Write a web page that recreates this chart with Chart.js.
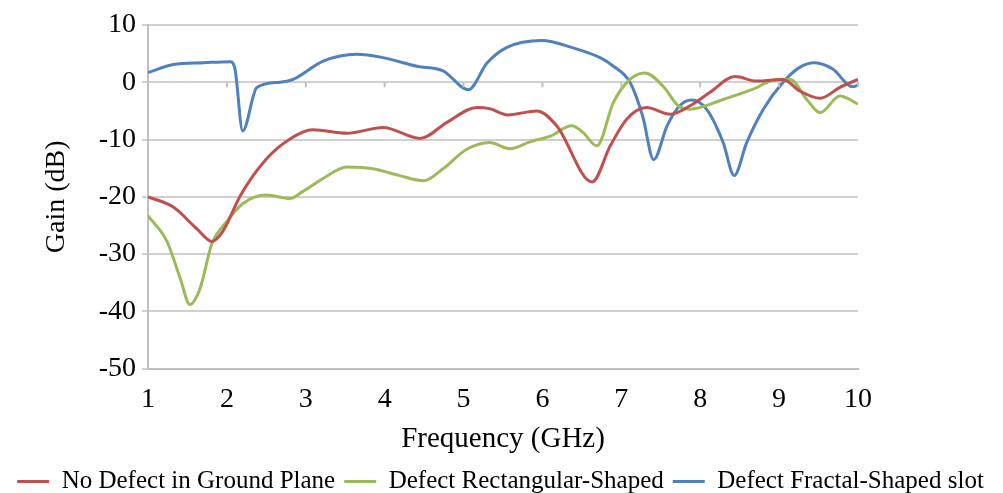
<!DOCTYPE html>
<html>
<head>
<meta charset="utf-8">
<script src="https://cdn.jsdelivr.net/npm/chart.js@4.4.0/dist/chart.umd.min.js"></script>
<style>
  html, body { margin: 0; padding: 0; background: #fff; }
  #wrap { width: 1003px; height: 493px; }
</style>
</head>
<body>
<div id="wrap"><canvas id="gainChart" width="1003" height="493"></canvas></div>
<script>
// Gain vs frequency
const seriesLabels = ['No Defect in Ground Plane', 'Defect Rectangular-Shaped', 'Defect Fractal-Shaped slot'];
const seriesColors = ['#C0504D', '#9BBB59', '#4F81BD'];

const noDefectFreq = [1, 1.32, 1.62, 1.81, 1.95, 2.17, 2.5, 2.8, 3.09, 3.52, 3.98, 4.45, 4.79, 5.17, 5.33, 5.56, 5.93, 6.18, 6.63, 6.86, 7.07, 7.32, 7.62, 7.87, 8.12, 8.44, 8.72, 9.05, 9.26, 9.52, 9.77, 10];
const noDefectGain = [-20, -21.8, -25.6, -27.8, -26, -19.8, -13.4, -9.9, -8.3, -8.9, -7.9, -9.8, -7, -4.4, -4.6, -5.7, -5, -7.6, -17.4, -11.1, -6.4, -4.4, -5.6, -4.1, -1.8, 1, 0.2, 0.5, -1.5, -2.8, -0.9, 0.5];

const rectFreq = [1, 1.24, 1.41, 1.53, 1.66, 1.81, 2, 2.2, 2.5, 2.8, 2.96, 3.22, 3.52, 3.85, 4.19, 4.49, 4.74, 5.04, 5.33, 5.59, 5.84, 6.1, 6.37, 6.51, 6.69, 6.9, 7.11, 7.3, 7.53, 7.72, 7.87, 8.29, 8.67, 8.97, 9.14, 9.35, 9.52, 9.77, 10];
const rectGain = [-23.3, -27.8, -34.3, -38.8, -36, -28.2, -24.3, -21.2, -19.7, -20.3, -19.1, -16.8, -14.8, -15.1, -16.3, -17.2, -15.1, -11.7, -10.5, -11.6, -10.4, -9.4, -7.6, -8.7, -11.1, -3.5, 0.5, 1.6, -0.7, -4.1, -4.7, -3, -1.2, 0.5, 0.5, -3, -5.3, -2.4, -3.8];

const fractalFreq = [1, 1.32, 1.7, 2.04, 2.1, 2.2, 2.38, 2.67, 2.84, 3.22, 3.65, 3.98, 4.41, 4.74, 5.06, 5.3, 5.55, 5.99, 6.39, 6.73, 6.9, 7.11, 7.27, 7.41, 7.58, 7.74, 7.89, 8.08, 8.29, 8.43, 8.59, 8.8, 9.05, 9.26, 9.45, 9.68, 9.93, 10];
const fractalGain = [1.7, 3.1, 3.4, 3.6, 2.5, -8.5, -0.9, 0, 0.5, 3.7, 4.9, 4.3, 2.8, 2, -1.3, 3.4, 6.1, 7.3, 6, 4.3, 2.8, 0, -5.9, -13.5, -7.6, -4.1, -3.1, -4.7, -10.5, -16.3, -10.5, -4.7, 0, 2.6, 3.4, 2.3, -0.8, -0.5];

const xTicks = [1, 2, 3, 4, 5, 6, 7, 8, 9, 10];
const yTicks = [-50, -40, -30, -20, -10, 0, 10];

const serif = '"Liberation Serif", "Times New Roman", serif';

function toPoints(xs, ys) {
    return xs.map((x, i) => ({ x: x, y: ys[i] }));
}

// Excel draws the category axis through 0 with short tick marks
const zeroAxisTicks = {
    id: 'zeroAxisTicks',
    afterDatasetsDraw(chart) {
        const { ctx, scales } = chart;
        const y0 = scales.y.getPixelForValue(0);
        ctx.save();
        ctx.strokeStyle = '#bfbfbf';
        ctx.lineWidth = 2;
        xTicks.forEach(v => {
            const px = scales.x.getPixelForValue(v);
            ctx.beginPath();
            ctx.moveTo(px, y0);
            ctx.lineTo(px, y0 + 5);
            ctx.stroke();
        });
        ctx.restore();
    }
};

// trim the extra space chart.js keeps under the legend row
const tightLegend = {
    id: 'tightLegend',
    afterInit(chart) {
        const legend = chart.legend;
        if (!legend) return;
        const origFit = legend.fit;
        legend.fit = function () {
            origFit.call(this);
            this.height = Math.max(0, this.height - 11);
        };
    }
};

const datasets = [
    toPoints(noDefectFreq, noDefectGain),
    toPoints(rectFreq, rectGain),
    toPoints(fractalFreq, fractalGain)
].map((pts, i) => ({
    label: seriesLabels[i],
    data: pts,
    borderColor: seriesColors[i],
    backgroundColor: seriesColors[i],
    borderWidth: 3,
    pointRadius: 0,
    cubicInterpolationMode: 'monotone',
    fill: false
}));

new Chart(document.getElementById('gainChart'), {
    type: 'line',
    data: { datasets },
    plugins: [zeroAxisTicks, tightLegend],
    options: {
        responsive: false,
        animation: false,
        layout: { padding: { top: 25, left: 0, right: 2, bottom: 0 } },
        plugins: {
            legend: {
                position: 'bottom',
                labels: {
                    usePointStyle: true,
                    pointStyle: 'line',
                    pointStyleWidth: 32,
                    boxHeight: 3,
                    padding: 9,
                    color: '#000',
                    font: { family: serif, size: 25 }
                }
            },
            tooltip: { enabled: false }
        },
        scales: {
            x: {
                type: 'linear',
                min: 1,
                max: 10,
                afterBuildTicks: s => { s.ticks = xTicks.map(v => ({ value: v })); },
                grid: { display: false },
                border: { display: true, color: '#bfbfbf', width: 2 },
                ticks: { color: '#000', padding: 6, font: { family: serif, size: 28 } },
                title: {
                    display: true,
                    text: 'Frequency (GHz)',
                    color: '#000',
                    padding: { top: 0, bottom: 3 },
                    font: { family: serif, size: 29 }
                }
            },
            y: {
                min: -50,
                max: 10,
                afterBuildTicks: s => { s.ticks = yTicks.map(v => ({ value: v })); },
                afterFit: s => { s.width = 148; },
                grid: { color: '#d0d0d0', lineWidth: 2, tickLength: 6 },
                border: { display: true, color: '#bfbfbf', width: 2 },
                ticks: { color: '#000', padding: 6, font: { family: serif, size: 28 } },
                title: {
                    display: true,
                    text: 'Gain (dB)',
                    color: '#000',
                    padding: { top: 40, bottom: 0 },
                    font: { family: serif, size: 28 }
                }
            },
            yRight: {
                position: 'right',
                display: true,
                grid: { display: false },
                border: { display: false },
                ticks: { display: false },
                afterFit: s => { s.width = 143; }
            }
        }
    }
});
</script>
</body>
</html>
